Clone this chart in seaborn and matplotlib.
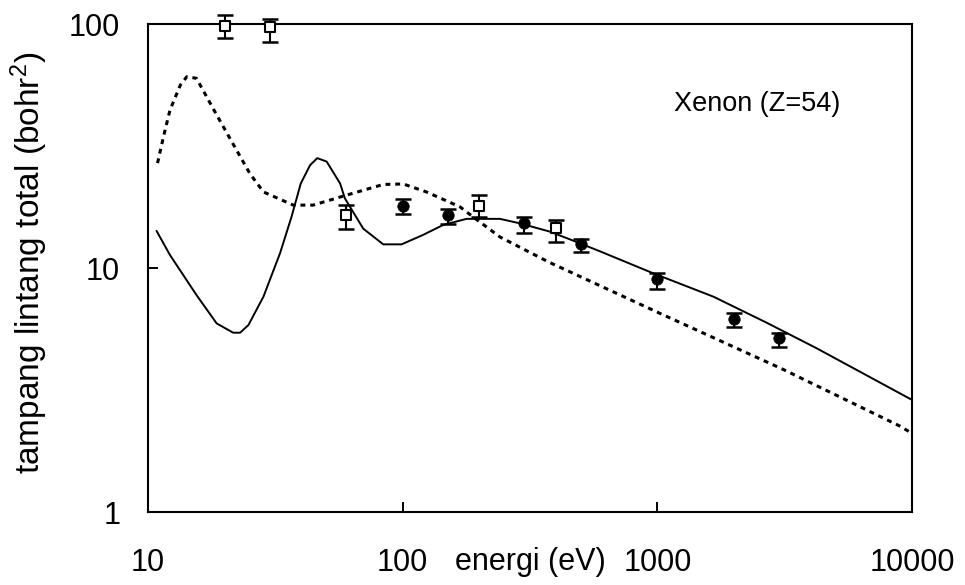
import numpy as np
import pandas as pd
import matplotlib
matplotlib.use("Agg")
import matplotlib.pyplot as plt
import seaborn as sns
from matplotlib.ticker import FixedLocator, FixedFormatter, NullLocator

# ---- data ----
solid_E = [10.8, 12.2, 15.5, 18.6, 21.6, 23.0, 24.8, 28.4, 33.0, 36.6, 39.8, 43.3, 46.2,
           50.3, 56.8, 59.3, 70.0, 83.9, 99, 120, 144, 178, 241, 288, 378, 454, 596,
           964, 1660, 2685, 4220, 6240, 10000]
solid_s = [14.2, 11.3, 7.75, 5.93, 5.43, 5.43, 5.84, 7.63, 11.5, 16.2, 22.2, 26.4, 28.2,
           27.3, 22.2, 19.3, 14.5, 12.5, 12.5, 13.65, 15.0, 15.9, 15.9, 15.25, 14.1, 13.1, 11.7,
           9.51, 7.63, 5.97, 4.69, 3.76, 2.88]

dotted_E = [10.9, 11.5, 12.2, 13.4, 14.2, 15.5, 18.6, 25.1, 28.4, 37.2, 44.5, 60.3, 83.9,
            100.5, 124, 168, 189, 241, 373, 1023, 3120, 8960, 10000]
dotted_s = [26.9, 34.5, 44.4, 56.2, 60.8, 59.9, 42.4, 24.4, 20.5, 18.1, 18.1, 19.9, 22.0,
            22.1, 20.5, 17.8, 16.2, 13.4, 10.6, 6.52, 3.84, 2.25, 2.1]

open_E = [20, 30, 60, 200, 400]
open_s = [98, 96.9, 16.5, 18.0, 14.6]
open_lo = [87.7, 84, 14.5, 16.2, 12.8]
open_hi = [109, 105, 18.2, 19.9, 15.8]

fill_E = [100, 150, 300, 500, 1000, 2000, 3000]
fill_s = [18.0, 16.5, 15.25, 12.5, 9.0, 6.16, 5.15]
fill_lo = [16.6, 15.1, 13.95, 11.6, 8.23, 5.75, 4.76]
fill_hi = [19.2, 17.4, 16.2, 13.1, 9.57, 6.56, 5.43]

x_ticks = [10, 100, 1000, 10000]
x_labels = ["10", "100", "1000", "10000"]
y_ticks = [1, 10, 100]
y_labels = ["1", "10", "100"]

sns.set_theme(style="white")
plt.rcParams["font.family"] = ["Liberation Sans", "DejaVu Sans"]
plt.rcParams["mathtext.fontset"] = "custom"
plt.rcParams["mathtext.rm"] = "Liberation Sans"
plt.rcParams["mathtext.default"] = "regular"

fig = plt.figure(figsize=(9.65, 5.85), dpi=100)
ax = fig.add_axes([148 / 965, 1 - 512 / 585, (912 - 148) / 965, (512 - 24) / 585])

df_solid = pd.DataFrame({"E": solid_E, "s": solid_s})
df_dot = pd.DataFrame({"E": dotted_E, "s": dotted_s})
sns.lineplot(data=df_solid, x="E", y="s", ax=ax, color="black", linewidth=1.4,
             sort=False, estimator=None)
sns.lineplot(data=df_dot, x="E", y="s", ax=ax, color="black", linewidth=2.2,
             sort=False, estimator=None, linestyle=(0, (1.6, 1.6)))

ax.set_xscale("log")
ax.set_yscale("log")
ax.set_xlim(10, 10000)
ax.set_ylim(1, 100)

o_s = np.array(open_s); f_s = np.array(fill_s)
ax.errorbar(open_E, open_s, yerr=[o_s - np.array(open_lo), np.array(open_hi) - o_s],
            fmt="none", ecolor="black", elinewidth=1.5, capsize=5.5, capthick=1.8,
            clip_on=False, zorder=3)
ax.errorbar(fill_E, fill_s, yerr=[f_s - np.array(fill_lo), np.array(fill_hi) - f_s],
            fmt="none", ecolor="black", elinewidth=1.5, capsize=5.5, capthick=1.8,
            clip_on=False, zorder=3)

sns.scatterplot(x=open_E, y=open_s, ax=ax, marker="s", s=62, facecolor="white",
                edgecolor="black", linewidth=1.5, zorder=4, clip_on=False)
sns.scatterplot(x=fill_E, y=fill_s, ax=ax, marker="o", s=68, color="black",
                edgecolor="black", linewidth=0.5, zorder=4)

ax.xaxis.set_major_locator(FixedLocator(x_ticks))
ax.xaxis.set_major_formatter(FixedFormatter(x_labels))
ax.yaxis.set_major_locator(FixedLocator(y_ticks))
ax.yaxis.set_major_formatter(FixedFormatter(y_labels))
ax.xaxis.set_minor_locator(NullLocator())
ax.yaxis.set_minor_locator(NullLocator())

ax.tick_params(axis="both", which="major", direction="in", length=7.5, width=1.4,
               labelsize=22, color="black", labelcolor="black")
ax.tick_params(axis="x", pad=26)
ax.tick_params(axis="y", pad=20)
ax.tick_params(bottom=True, left=True, top=False, right=False)

for sp in ax.spines.values():
    sp.set_color("black")
    sp.set_linewidth(1.5)
    sp.set_visible(True)

ax.set_xlabel("energi (eV)", fontsize=22, color="black")
ax.set_ylabel("tampang lintang total (bohr$^{2}$)", fontsize=24, color="black")
ax.xaxis.set_label_coords(0.5, -0.072)
ax.yaxis.set_label_coords(-0.128, 0.51)

ax.text(0.797, 0.836, "Xenon (Z=54)", transform=ax.transAxes, fontsize=19.5,
        ha="center", va="center", color="black")

fig.savefig("out.png", dpi=100, facecolor="white")
